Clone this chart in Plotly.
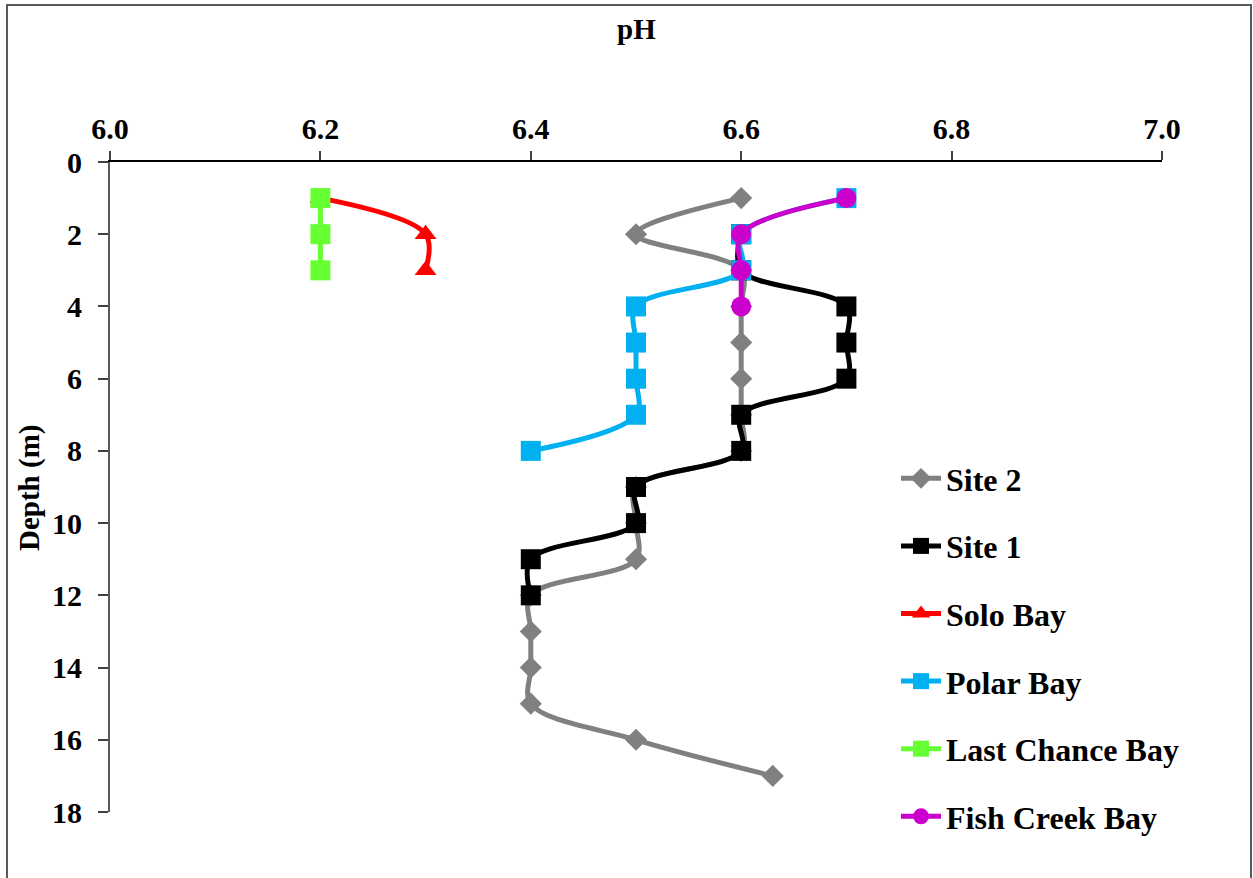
import plotly.graph_objects as go

# ---- data ----
site2_depth = [1, 2, 3, 4, 5, 6, 7, 8, 9, 10, 11, 12, 13, 14, 15, 16, 17]
site2_ph = [6.6, 6.5, 6.6, 6.6, 6.6, 6.6, 6.6, 6.6, 6.5, 6.5, 6.5, 6.4, 6.4, 6.4, 6.4, 6.5, 6.63]

site1_depth = [2, 3, 4, 5, 6, 7, 8, 9, 10, 11, 12]
site1_ph = [6.6, 6.6, 6.7, 6.7, 6.7, 6.6, 6.6, 6.5, 6.5, 6.4, 6.4]

solo_depth = [1, 2, 3]
solo_ph = [6.2, 6.3, 6.3]

polar_depth = [1, 2, 3, 4, 5, 6, 7, 8]
polar_ph = [6.7, 6.6, 6.6, 6.5, 6.5, 6.5, 6.5, 6.4]

lastchance_depth = [1, 2, 3]
lastchance_ph = [6.2, 6.2, 6.2]

fishcreek_depth = [1, 2, 3, 4]
fishcreek_ph = [6.7, 6.6, 6.6, 6.6]

x_ticks = [6.0, 6.2, 6.4, 6.6, 6.8, 7.0]
y_ticks = [0, 2, 4, 6, 8, 10, 12, 14, 16, 18]

FONT = "Liberation Serif"

series = [
    ("Site 2", site2_ph, site2_depth, "#808080", "diamond", 17),
    ("Site 1", site1_ph, site1_depth, "#000000", "square", 20),
    ("Solo Bay", solo_ph, solo_depth, "#FF0000", "triangle-up", 19),
    ("Polar Bay", polar_ph, polar_depth, "#00B0F0", "square", 20),
    ("Last Chance Bay", lastchance_ph, lastchance_depth, "#66FF33", "square", 20),
    ("Fish Creek Bay", fishcreek_ph, fishcreek_depth, "#CC00CC", "circle", 20),
]

fig = go.Figure()
for i, (name, xs, ys, color, sym, sz) in enumerate(series):
    fig.add_trace(go.Scatter(
        x=xs, y=ys, name=name, mode="lines+markers",
        line=dict(color=color, width=5, shape="spline", smoothing=1),
        marker=dict(color=color, symbol=sym, size=sz),
        legendgroup=f"g{i}",
    ))

L, R, T, B = 110, 91, 162, 66
W, H = 1253, 878
pw, ph = W - L - R, H - T - B

def px_x(p):
    return (p - L) / pw

def px_y(p):
    return (H - B - p) / ph

fig.update_layout(
    width=W, height=H,
    margin=dict(l=L, r=R, t=T, b=B, autoexpand=False),
    paper_bgcolor="white", plot_bgcolor="white",
    font=dict(family=FONT, size=30, color="black", weight="bold"),
    xaxis=dict(
        range=[6.0, 7.0], side="top", tickvals=x_ticks,
        ticktext=[f"{v:.1f}" for v in x_ticks],
        ticks="outside", ticklen=9, tickwidth=1.5, tickcolor="#404040",
        showline=True, linecolor="black", linewidth=2,
        showgrid=False, zeroline=False,
        tickfont=dict(family=FONT, size=30, color="black", weight="bold"),
    ),
    yaxis=dict(
        range=[18, 0], tickvals=y_ticks,
        ticks="outside", ticklen=10, tickwidth=1.5, tickcolor="#404040",
        showline=True, linecolor="#595959", linewidth=2,
        showgrid=False, zeroline=False, ticklabelstandoff=10,
        tickfont=dict(family=FONT, size=30, color="black", weight="bold"),
    ),
    legend=dict(
        x=px_x(896), y=px_y(451), xanchor="left", yanchor="top",
        font=dict(family=FONT, size=32, color="black", weight="bold"),
        bgcolor="rgba(0,0,0,0)", tracegroupgap=23, itemwidth=40,
    ),
    showlegend=True,
    annotations=[
        dict(text="pH", xref="paper", yref="paper", x=px_x(636), y=px_y(29),
             showarrow=False, xanchor="center", yanchor="middle",
             font=dict(family=FONT, size=29, color="black", weight="bold")),
        dict(text="Depth (m)", xref="paper", yref="paper", x=px_x(30), y=px_y(488),
             showarrow=False, xanchor="center", yanchor="middle", textangle=-90,
             font=dict(family=FONT, size=29, color="black", weight="bold")),
    ],
    shapes=[
        dict(type="rect", xref="paper", yref="paper",
             x0=px_x(7), x1=px_x(1251), y0=px_y(880), y1=px_y(5),
             line=dict(color="#595959", width=2), fillcolor="rgba(0,0,0,0)",
             layer="below"),
    ],
)

fig.write_html(
    "out.html",
    config={"displayModeBar": False},
    post_script="document.body.style.margin='0';document.body.style.padding='0';",
)
